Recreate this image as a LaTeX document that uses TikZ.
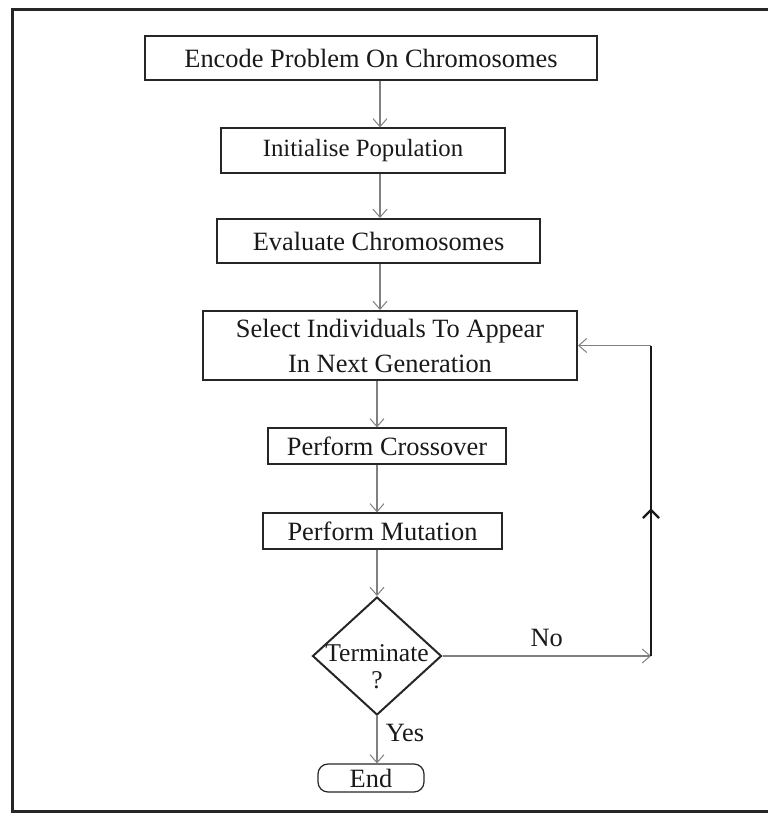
\documentclass[tikz,border=0pt]{standalone}
\usepackage{fontspec}
\setmainfont{Liberation Serif}
\usetikzlibrary{arrows.meta,shapes.geometric}
\begin{document}
\begin{tikzpicture}[x=0.5pt,y=-0.5pt,
 txt/.style={font=\fontsize{13.2}{17.5}\selectfont,text=black!90},
 thickbox/.style={txt,draw=black!85,line width=1pt,rectangle,inner sep=0pt,align=center},
 thinbox/.style={thickbox,line width=0.6pt},
 conn/.style={draw=black!50,line width=0.6pt,-{Straight Barb[length=4pt,width=7pt,line width=0.5pt]}}]
\useasboundingbox (0,0) rectangle (768,815);
\draw[line width=1.5pt, black!85] (768,9) -- (12,9) -- (12,811) -- (768,811);

\node[thickbox,minimum width=226pt,minimum height=22pt] (enc) at (371,58) {Encode Problem On Chromosomes};
\node[thinbox,minimum width=142pt,minimum height=22.5pt,font=\fontsize{12.4}{15}\selectfont] (ini) at (363,150.5) {Initialise Population};
\node[thickbox,minimum width=161.5pt,minimum height=22pt] (eva) at (378.5,241) {Evaluate Chromosomes};
\node[thickbox,minimum width=187pt,minimum height=34.5pt] (sel) at (390,345.5) {Select Individuals To Appear\\In Next Generation};
\node[thinbox,minimum width=119pt,minimum height=18pt] (cro) at (387,446) {Perform Crossover};
\node[thinbox,minimum width=119.5pt,minimum height=18pt] (mut) at (382.5,531) {Perform Mutation};
\node[diamond,draw=black!85,line width=1pt,inner sep=0pt,minimum width=64.5pt,minimum height=59pt] (dia) at (377,656) {};
\node[txt,align=center,font=\fontsize{12.8}{13.5}\selectfont] (diat) at (377,667) {Terminate\\?};
\node[thinbox,rounded corners=5pt,minimum width=53pt,minimum height=14pt] (end) at (371,778) {End};

\coordinate (col) at (380,0);
\coordinate (c1) at (377,0);
\coordinate (fb) at (651,0);
\coordinate (arr) at (651,510);

\draw[conn] (enc.south -| col) -- (ini.north -| col);
\draw[conn] (ini.south -| col) -- (eva.north -| col);
\draw[conn] (eva.south -| col) -- (sel.north -| col);
\draw[conn] (sel.south -| c1) -- (cro.north -| c1);
\draw[conn] (cro.south -| c1) -- (mut.north -| c1);
\draw[conn] (mut.south -| dia.north) -- (dia.north);
\draw[conn] (dia.south) -- (dia.south |- end.north);

\draw[conn] (dia.east) -- (dia.east -| fb) node[txt,midway,above=1pt] (no) {No};
\draw[black!90,line width=1.3pt] (dia.east -| fb) -- (fb |- sel.east);
\draw[black!90,line width=1.2pt] (arr) ++(-8,8) -- (arr) -- ++(8,8);
\draw[conn] (fb |- sel.east) -- (sel.east);

\node[txt] (yes) at (405,733) {Yes};
\end{tikzpicture}
\end{document}
